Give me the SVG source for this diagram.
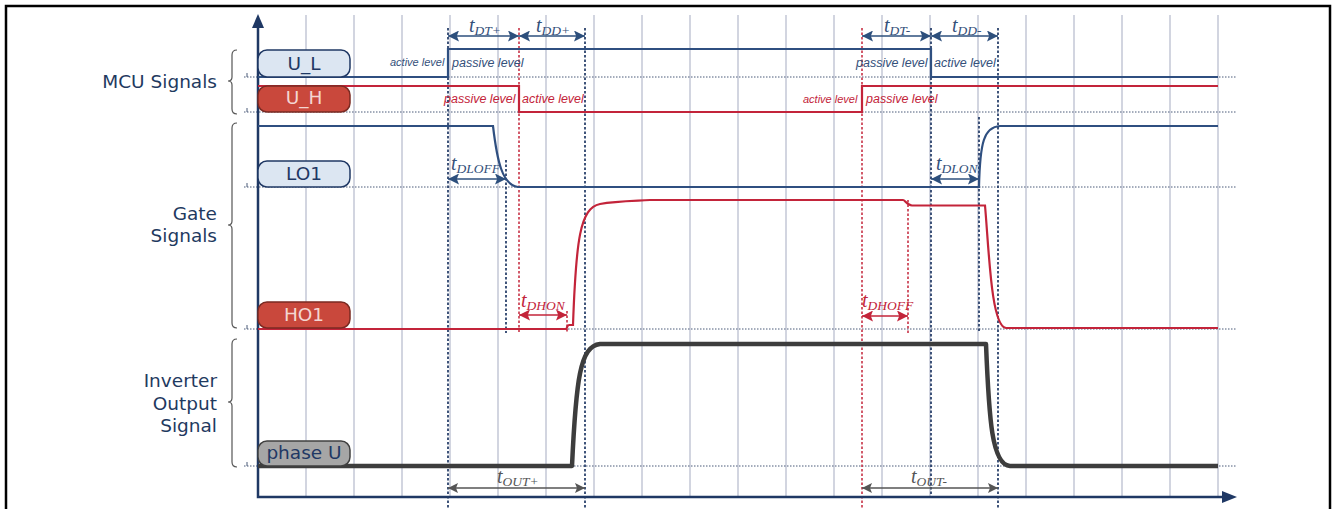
<svg xmlns="http://www.w3.org/2000/svg" width="1332" height="509" viewBox="0 0 1332 509">
<style>
.grid{stroke:#c3c7d6;stroke-width:1.5}
.base{stroke:#4a5a78;stroke-width:1;stroke-dasharray:1.5 1.5;fill:none}
.vn{stroke:#1f3864;stroke-width:1.7;stroke-dasharray:2.5 2;fill:none}
.vr{stroke:#c3243a;stroke-width:1.5;stroke-dasharray:2.5 2;fill:none}
.sn{stroke:#2f4f80;stroke-width:2.2;fill:none}
.sr{stroke:#c3243a;stroke-width:2.2;fill:none}
.sg{stroke:#3d3d3d;stroke-width:4.5;fill:none;stroke-linejoin:round}
.grp{font-family:"DejaVu Sans",Verdana,sans-serif;font-size:18.5px;fill:#1f3a5f;text-anchor:end}
.lbl{font-family:"DejaVu Sans",Verdana,sans-serif;font-size:18.5px;text-anchor:middle}
.lvl{font-family:"Liberation Sans",Arial,sans-serif;font-style:italic;font-size:12.5px}
.lvs{font-size:11px}
.tn{fill:#34507a}.tr{fill:#c3243a}.tg{fill:#555}
.t{font-family:"Liberation Serif","Times New Roman",serif;font-style:italic;font-size:20px}
.sub{font-size:13.5px}
.an{stroke:#2d4f7c;stroke-width:1.3;marker-start:url(#mn);marker-end:url(#mn)}
.ar{stroke:#c3243a;stroke-width:1.3;marker-start:url(#mr);marker-end:url(#mr)}
.ag{stroke:#555;stroke-width:1.3;marker-start:url(#mg);marker-end:url(#mg)}
.brace{stroke:#555;stroke-width:1.2;fill:none}
.bl{fill:#dce6f2;stroke:#1f3864;stroke-width:1.5}
.br{fill:#c9483c;stroke:#7a2a22;stroke-width:1.5}
.bg{fill:#a6a6a6;stroke:#404040;stroke-width:1.5}
</style>
<defs>
<marker id="mn" viewBox="0 0 10 10" refX="10" refY="5" markerWidth="12" markerHeight="11" markerUnits="userSpaceOnUse" orient="auto-start-reverse"><path d="M0,0 L10,5 L0,10 L2,5 z" fill="#2d4f7c"/></marker>
<marker id="mr" viewBox="0 0 10 10" refX="10" refY="5" markerWidth="12" markerHeight="11" markerUnits="userSpaceOnUse" orient="auto-start-reverse"><path d="M0,0 L10,5 L0,10 L2,5 z" fill="#c3243a"/></marker>
<marker id="mg" viewBox="0 0 10 10" refX="10" refY="5" markerWidth="12" markerHeight="10" markerUnits="userSpaceOnUse" orient="auto-start-reverse"><path d="M0,0 L10,5 L0,10 L2,5 z" fill="#555"/></marker>
</defs>
<rect x="6" y="6" width="1324" height="520" fill="#fff" stroke="#000" stroke-width="2.5"/>

<g id="grid">
<path class="grid" d="M306,15V497M354,15V497M402,15V497M450,15V497M498,15V497M546,15V497M594,15V497M642,15V497M690,15V497M738,15V497M786,15V497M834,15V497M882,15V497M930,15V497M978,15V497M1026,15V497M1074,15V497M1122,15V497M1170,15V497M1218,15V497"/>
</g>

<g id="baselines">
<path class="base" d="M244,77H1236M244,112H1236M244,187H1236M244,329H1236M244,466H1236"/>
<path stroke="#4a5a78" stroke-width="1" d="M247,73V77M247,108V112M247,183V187M247,325V329M247,462V466"/>
</g>

<g id="markers-vertical">
<path class="vn" d="M448,28V509M585,28V509M931,28V497M998,28V509M506,160V333M979,117V333"/>
<path class="vr" d="M519,28V333M862,28V509M567,311V333M908,200V333"/>
</g>

<g id="axes">
<path d="M258,27V497H1224" stroke="#1f3864" stroke-width="2.5" fill="none"/>
<path d="M252,28L258,14L264,28z" fill="#1f3864"/>
<path d="M1222,491L1237,497L1222,503z" fill="#1f3864"/>
</g>

<g id="group-labels">
<text class="grp" x="217" y="88">MCU Signals</text>
<path class="brace" d="M237,50Q232,50 232,55V77Q232,81 228,81Q232,81 232,85V109Q232,114 237,114"/>
<text class="grp" x="217" y="220">Gate</text>
<text class="grp" x="217" y="242">Signals</text>
<path class="brace" d="M237,123Q232,123 232,128V221Q232,225 228,225Q232,225 232,229V323Q232,328 237,328"/>
<text class="grp" x="217" y="387">Inverter</text>
<text class="grp" x="217" y="410">Output</text>
<text class="grp" x="217" y="432">Signal</text>
<path class="brace" d="M237,339Q232,339 232,344V398Q232,402 228,402Q232,402 232,406V462Q232,467 237,467"/>
</g>

<g id="U_L">
<path class="sn" d="M258,77H448V49H931V77H1218"/>
<rect class="bl" x="258" y="50" width="92" height="27" rx="9"/>
<text class="lbl" x="304" y="70" fill="#1f3864">U_L</text>
<text class="lvl lvs tn" x="390" y="66">active level</text>
<text class="lvl tn" x="452" y="67">passive level</text>
<text class="lvl tn" x="856" y="67">passive level</text>
<text class="lvl tn" x="934" y="67">active level</text>
</g>

<g id="U_H">
<path class="sr" d="M258,86H519V112H862V86H1218"/>
<rect class="br" x="258" y="86" width="92" height="26" rx="9"/>
<text class="lbl" x="304" y="104" fill="#f4d6d2">U_H</text>
<text class="lvl tr" x="444" y="103">passive level</text>
<text class="lvl tr" x="522" y="103">active level</text>
<text class="lvl lvs tr" x="803" y="103">active level</text>
<text class="lvl tr" x="866" y="103">passive level</text>
</g>

<g id="LO1">
<path class="sn" d="M258,126H493C497,160 502,185 518,187H979C980,142 984,127 1000,126H1218"/>
<rect class="bl" x="258" y="161" width="92" height="26" rx="9"/>
<text class="lbl" x="304" y="180" fill="#1f3864">LO1</text>
</g>

<g id="HO1">
<path class="sr" d="M258,329H566C567,329 567,325 569,325H573C576,240 580,208 600,204C615,201 630,201 650,200H903C905,200 907,205.5 912,205.5H985C989,250 991,326 1006,328H1218"/>
<rect class="br" x="258" y="302" width="92" height="26" rx="9"/>
<text class="lbl" x="304" y="321" fill="#f4d6d2">HO1</text>
</g>

<g id="phaseU">
<path class="sg" d="M258,466H572C576,380 580,346 600,344H986C989,420 992,465 1010,466H1218"/>
<rect class="bg" x="258" y="441" width="92" height="25" rx="9"/>
<text class="lbl" x="304" y="459" fill="#1f3864">phase U</text>
</g>

<g id="connectors">
<line class="an" x1="448" y1="36" x2="519" y2="36"/>
<line class="an" x1="519" y1="36" x2="585" y2="36"/>
<line class="an" x1="862" y1="36" x2="931" y2="36"/>
<line class="an" x1="931" y1="36" x2="998" y2="36"/>
<line class="an" x1="448" y1="179" x2="506" y2="179"/>
<line class="an" x1="931" y1="179" x2="979" y2="179"/>
<line class="ar" x1="519" y1="315" x2="567" y2="315"/>
<line class="ar" x1="862" y1="316" x2="908" y2="316"/>
<line class="ag" x1="448" y1="488" x2="585" y2="488"/>
<line class="ag" x1="862" y1="488" x2="998" y2="488"/>
</g>

<g id="timing-labels">
<text class="t tn" x="469" y="32">t<tspan class="sub" dy="3">DT+</tspan></text>
<text class="t tn" x="536" y="32">t<tspan class="sub" dy="3">DD+</tspan></text>
<text class="t tn" x="884" y="32">t<tspan class="sub" dy="3">DT-</tspan></text>
<text class="t tn" x="952" y="32">t<tspan class="sub" dy="3">DD-</tspan></text>
<text class="t tn" x="451" y="170">t<tspan class="sub" dy="3">DLOFF</tspan></text>
<text class="t tn" x="936" y="170">t<tspan class="sub" dy="3">DLON</tspan></text>
<text class="t tr" x="521" y="307">t<tspan class="sub" dy="3">DHON</tspan></text>
<text class="t tr" x="862" y="307">t<tspan class="sub" dy="3">DHOFF</tspan></text>
<text class="t tg" x="497" y="483">t<tspan class="sub" dy="3">OUT+</tspan></text>
<text class="t tg" x="911" y="483">t<tspan class="sub" dy="3">OUT-</tspan></text>
</g>
</svg>
